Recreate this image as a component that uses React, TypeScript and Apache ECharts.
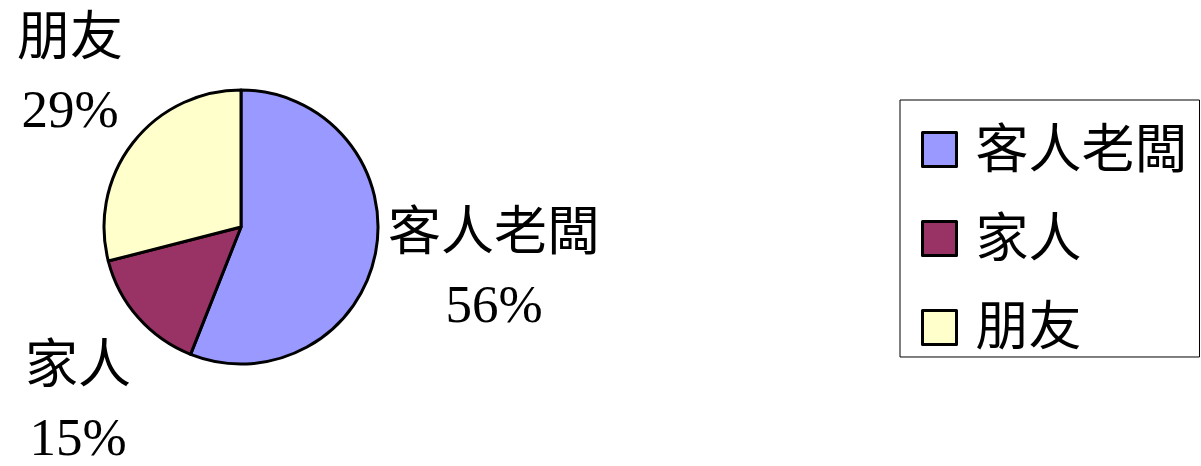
import React, { useEffect, useRef } from "react";
import * as echarts from "echarts";

const categories = ["客人老闆", "家人", "朋友"];
const values = [56, 15, 29];
const colors = ["#9999FF", "#993366", "#FFFFCC"];

const FONT = "'Liberation Serif', 'Noto Sans CJK TC', serif";

export default function App() {
  const ref = useRef<HTMLDivElement>(null);
  useEffect(() => {
    if (!ref.current) return;
    const chart = echarts.init(ref.current, null, { renderer: "svg" });
    const labelPos = [
      { x: 494, y: 268 },
      { x: 78, y: 401 },
      { x: 70, y: 73 },
    ];
    chart.setOption({
      animation: false,
      backgroundColor: "#ffffff",
      legend: {
        orient: "vertical",
        left: 900,
        top: 100,
        data: categories,
        itemWidth: 34,
        itemHeight: 34,
        itemGap: 36,
        padding: [23, 12, 3, 21],
        borderColor: "#000000",
        borderWidth: 1,
        icon: "rect",
        textStyle: {
          fontFamily: FONT,
          fontSize: 53,
          lineHeight: 50,
          color: "#000000",
          padding: [0, 0, 0, 14],
        },
        itemStyle: { borderColor: "#000000", borderWidth: 3 },
      },
      series: [
        {
          type: "pie",
          center: [241, 227],
          radius: 137,
          startAngle: 90,
          clockwise: true,
          avoidLabelOverlap: false,
          data: categories.map((name, i) => ({
            name,
            value: values[i],
            itemStyle: { color: colors[i] },
          })),
          itemStyle: { borderColor: "#000000", borderWidth: 3 },
          label: {
            show: true,
            position: "outside",
            formatter: "{b}\n{d}%",
            fontFamily: FONT,
            fontSize: 53,
            lineHeight: 72,
            color: "#000000",
            align: "center",
          },
          labelLine: { show: false },
          labelLayout: (params: any) => {
            const p = labelPos[params.dataIndex];
            return { x: p.x, y: p.y, align: "center", verticalAlign: "middle" };
          },
          emphasis: { disabled: true },
        },
      ],
    });
    return () => chart.dispose();
  }, []);
  return (
    <div
      ref={ref}
      style={{ position: "fixed", left: 0, top: 0, width: 1201, height: 466 }}
    />
  );
}
